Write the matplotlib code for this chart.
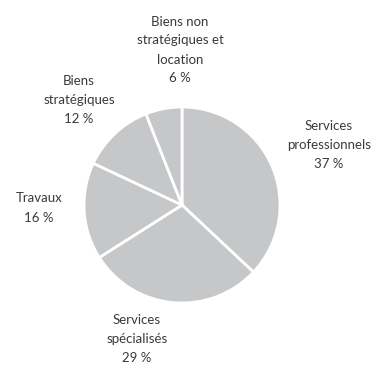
import matplotlib
matplotlib.use("Agg")
import matplotlib.pyplot as plt

# data
categories = [
    "Services\nprofessionnels",
    "Services\nspécialisés",
    "Travaux",
    "Biens\nstratégiques",
    "Biens non\nstratégiques et\nlocation",
]
shares = [37, 29, 16, 12, 6]

# label centres in pixel coords (x, y from top)
label_pos = [(329, 145), (137, 339), (39, 208), (79, 100), (180, 50)]

W, H = 376, 366
fig = plt.figure(figsize=(W / 100, H / 100), dpi=100)
ax = fig.add_axes([0, 0, 1, 1])

ax.pie(
    shares,
    center=(182, H - 205),
    radius=98,
    startangle=90,
    counterclock=False,
    colors=["#c6c7c9"] * len(shares),
    wedgeprops=dict(edgecolor="white", linewidth=2),
    frame=True,
)
ax.set_xlim(0, W)
ax.set_ylim(0, H)
ax.set_aspect("equal")
ax.axis("off")

for cat, val, (x, y) in zip(categories, shares, label_pos):
    ax.text(x, H - y, f"{cat}\n{val} %", ha="center", va="center",
            fontsize=9.5, family="Lato", color="#3a3a3a", linespacing=1.7)

fig.savefig("out.png", dpi=100)
